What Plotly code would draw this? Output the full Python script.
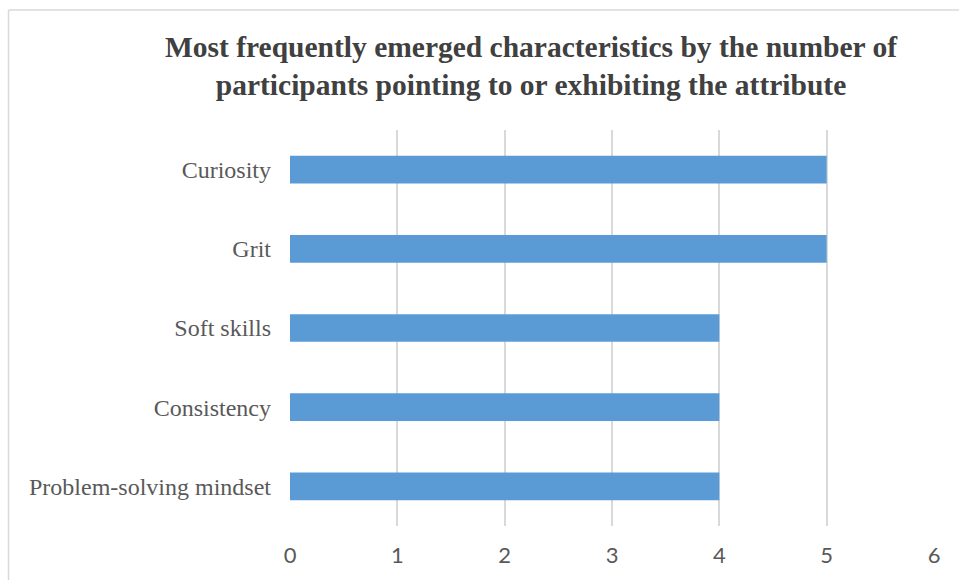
import plotly.graph_objects as go

categories = ["Curiosity", "Grit", "Soft skills", "Consistency", "Problem-solving mindset"]
values = [5, 5, 4, 4, 4]
x_ticks = [0, 1, 2, 3, 4, 5, 6]
title_text = ("<b>Most frequently emerged characteristics by the number of<br>"
              "participants pointing to or exhibiting the attribute</b>")

W, H = 959, 580
L, R, T, B = 290, 25, 130, 54
pw, ph = W - L - R, H - T - B

fig = go.Figure(go.Bar(
    x=values, y=categories, orientation="h",
    marker=dict(color="#5B9BD5", line=dict(width=0)),
))

def px_to_paper_x(px):
    return (px - L) / pw

def px_to_paper_y(py):
    return 1 - (py - T) / ph

fig.update_layout(
    width=W, height=H,
    margin=dict(l=L, r=R, t=T, b=B),
    paper_bgcolor="white", plot_bgcolor="white",
    bargap=0.65,
    showlegend=False,
    title=dict(text=title_text, x=px_to_paper_x(531), xref="paper", xanchor="center",
               y=1 - 57 / H, yanchor="middle",
               font=dict(family="Liberation Serif", size=29.5, color="#404040")),
    xaxis=dict(range=[0, 6], tickvals=x_ticks, showgrid=True, gridcolor="#D9D9D9",
               gridwidth=1.5, zeroline=False, showline=False, ticks="",
               tickfont=dict(family="Lato", size=22, color="#595959"), ticklabelstandoff=14),
    yaxis=dict(categoryorder="array", categoryarray=categories[::-1], showgrid=False,
               zeroline=False, showline=False, ticks="", ticklabelstandoff=18,
               tickfont=dict(family="Liberation Serif", size=24, color="#595959")),
    shapes=[
        dict(type="line", xref="paper", yref="paper",
             x0=px_to_paper_x(8.5), x1=px_to_paper_x(8.5),
             y0=px_to_paper_y(10), y1=px_to_paper_y(580),
             line=dict(color="#D9D9D9", width=1.5)),
        dict(type="line", xref="paper", yref="paper",
             x0=px_to_paper_x(8.5), x1=px_to_paper_x(959),
             y0=px_to_paper_y(10), y1=px_to_paper_y(10),
             line=dict(color="#D9D9D9", width=1.5)),
    ],
)

fig.write_html("out.html")
